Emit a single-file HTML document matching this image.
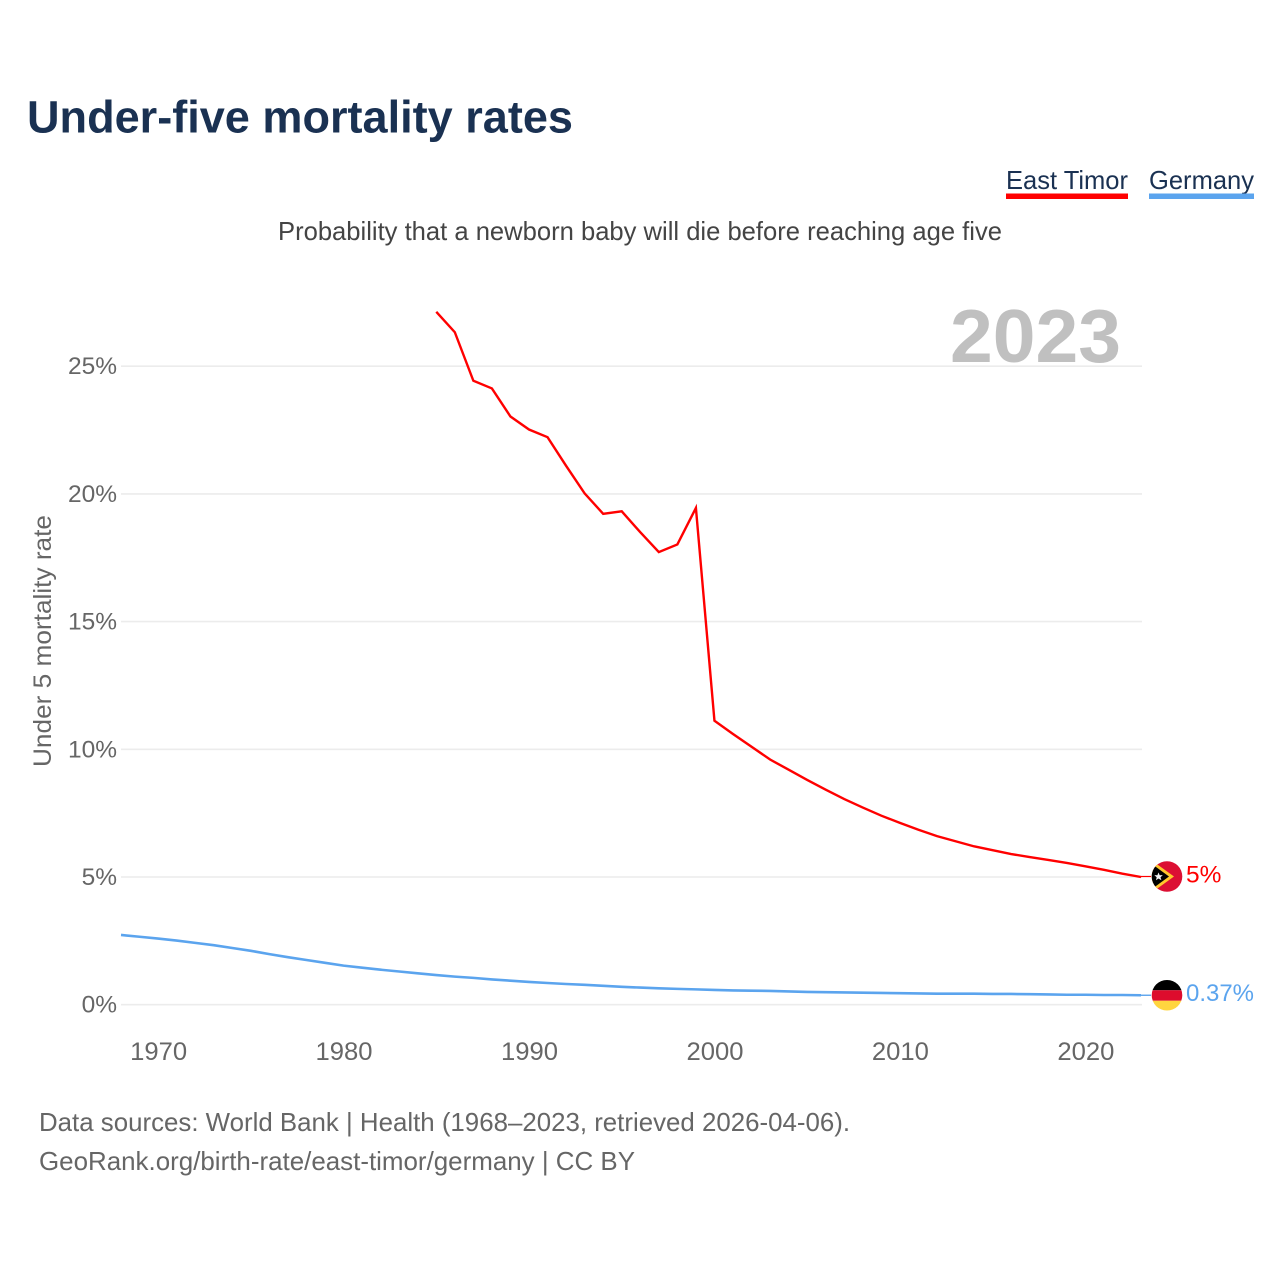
<!DOCTYPE html>
<html lang="en">
<head>
<meta charset="utf-8">
<title>Under-five mortality rates</title>
<style>
html,body{margin:0;padding:0;background:#fff;width:1280px;height:1280px;overflow:hidden}
svg{display:block}
text{font-family:"Liberation Sans",sans-serif}
</style>
</head>
<body>
<svg id="chart" width="1280" height="1280" viewBox="0 0 1280 1280" xmlns="http://www.w3.org/2000/svg">
  <text x="27" y="132.5" font-size="45" font-weight="700" fill="#1a3152" textLength="546" lengthAdjust="spacingAndGlyphs">Under-five mortality rates</text>

  <g>
    <text x="1006" y="189" font-size="26" fill="#1a3152" textLength="122" lengthAdjust="spacingAndGlyphs">East Timor</text>
    <rect x="1006" y="193.5" width="122" height="5.5" fill="#ff0000"/>
  </g>
  <g>
    <text x="1149" y="189" font-size="26" fill="#1a3152" textLength="105" lengthAdjust="spacingAndGlyphs">Germany</text>
    <rect x="1149" y="193.5" width="105" height="5.5" fill="#5ba4ee"/>
  </g>

  <text x="278" y="240" font-size="26" fill="#444444" textLength="724" lengthAdjust="spacingAndGlyphs">Probability that a newborn baby will die before reaching age five</text>

  <g id="grid"></g>
  <g id="yticks"></g>
  <g id="xticks"></g>

  <text x="950" y="362" font-size="75" font-weight="700" fill="#c0c0c0" textLength="171" lengthAdjust="spacingAndGlyphs">2023</text>

  <text x="0" y="0" transform="translate(51,767) rotate(-90)" font-size="25" fill="#666666" textLength="252" lengthAdjust="spacingAndGlyphs">Under 5 mortality rate</text>

  <g id="series"></g>
  <g id="ends"></g>

  <text x="39" y="1131" font-size="26" fill="#666666" textLength="811" lengthAdjust="spacingAndGlyphs">Data sources: World Bank | Health (1968–2023, retrieved 2026-04-06).</text>
  <text x="39" y="1170" font-size="26" fill="#666666" textLength="596" lengthAdjust="spacingAndGlyphs">GeoRank.org/birth-rate/east-timor/germany | CC BY</text>
</svg>

<script>
const yTicks = [0, 5, 10, 15, 20, 25];
const xTicks = [1970, 1980, 1990, 2000, 2010, 2020];
const eastTimorStart = 1985;
const eastTimorValues = [27.13, 26.33, 24.43, 24.13, 23.03, 22.52, 22.22, 21.1, 20.02, 19.22, 19.32, 18.5, 17.72, 18.02, 19.45, 11.12, 10.6, 10.1, 9.6, 9.2, 8.8, 8.42, 8.05, 7.72, 7.4, 7.12, 6.85, 6.6, 6.4, 6.2, 6.05, 5.9, 5.78, 5.67, 5.55, 5.42, 5.28, 5.13, 5.0];
const germanyStart = 1968;
const germanyValues = [2.73, 2.66, 2.59, 2.51, 2.42, 2.33, 2.22, 2.11, 1.98, 1.86, 1.75, 1.64, 1.53, 1.45, 1.37, 1.30, 1.23, 1.16, 1.10, 1.05, 0.99, 0.94, 0.89, 0.85, 0.81, 0.78, 0.74, 0.70, 0.67, 0.64, 0.62, 0.60, 0.58, 0.56, 0.55, 0.54, 0.52, 0.50, 0.49, 0.48, 0.47, 0.46, 0.45, 0.44, 0.43, 0.43, 0.43, 0.42, 0.42, 0.41, 0.40, 0.39, 0.39, 0.38, 0.38, 0.37];
const eastTimorLabel = '5%';
const germanyLabel = '0.37%';

const NS = 'http://www.w3.org/2000/svg';
function xScale(year) { return 121 + (year - 1968) * (1141 - 121) / 55; }
function yScale(v) { return 1004.7 - v * 25.54; }
function make(tag, attrs, parent) {
  const el = document.createElementNS(NS, tag);
  for (const k in attrs) el.setAttribute(k, attrs[k]);
  parent.appendChild(el);
  return el;
}

const grid = document.getElementById('grid');
const yTickGroup = document.getElementById('yticks');
yTicks.forEach(function (t) {
  const line = make('line', { x1: 121, x2: 1142, y1: yScale(t), y2: yScale(t), stroke: '#ececec', 'stroke-width': 1.6 }, grid);
  
  
  const label = make('text', { x: 117, y: yScale(t) + 8, 'text-anchor': 'end', 'font-size': 24.5, fill: '#666666' }, yTickGroup);
  
  
  label.textContent = t + '%';
});

const xTickGroup = document.getElementById('xticks');
xTicks.forEach(function (t) {
  const label = make('text', { x: xScale(t) - 28, y: 1060, 'font-size': 25, fill: '#666666', textLength: 57, lengthAdjust: 'spacingAndGlyphs' }, xTickGroup);
  
  
  label.textContent = String(t);
});

function pathFor(start, values) {
  return values.map(function (v, i) {
    return (i ? 'L' : 'M') + xScale(start + i).toFixed(2) + ' ' + yScale(v).toFixed(2);
  }).join(' ');
}

const seriesGroup = document.getElementById('series');
const germanyLine = make('path', { d: pathFor(germanyStart, germanyValues), fill: 'none', stroke: '#5ba4ee', 'stroke-width': 2.6, 'stroke-linejoin': 'round' }, seriesGroup);


const timorLine = make('path', { d: pathFor(eastTimorStart, eastTimorValues), fill: 'none', stroke: '#ff0000', 'stroke-width': 2.4, 'stroke-linejoin': 'miter' }, seriesGroup);



const ends = document.getElementById('ends');
const flagX = 1167;

/* East Timor end marker */
const tY = yScale(eastTimorValues[eastTimorValues.length - 1]);
const tLead = make('line', { x1: 1141, x2: 1151, y1: tY - 0.5, y2: tY - 0.5, stroke: '#ff0000', 'stroke-width': 1.2 }, ends);


const tFlag = make('g', { transform: 'translate(' + flagX + ',' + (tY - 0.5) + ')' }, ends);


const tClip = make('clipPath', { id: 'timor-clip' }, tFlag);
make('circle', { r: 15.3 }, tClip);
const tBody = make('g', { 'clip-path': 'url(#timor-clip)' }, tFlag);
make('rect', { x: -16, y: -16, width: 32, height: 32, fill: '#dc0f33' }, tBody);
make('path', { d: 'M-16 -16 L-11 -13 L7 0 L-11 13 L-16 16 Z', fill: '#ffc72c' }, tBody);
make('path', { d: 'M-16 -13 L-11 -9.5 L2 0 L-11 9.5 L-16 13 Z', fill: '#000000' }, tBody);
make('path', { d: 'M-8.5 -4 L-7.3 -1.2 L-4.2 -1.4 L-6.5 0.7 L-5.6 3.7 L-8.5 2 L-11 3.7 L-10.3 0.7 L-12.7 -1.4 L-9.6 -1.2 Z', fill: '#f4f4f4' }, tBody);
const tLabel = make('text', { x: 1186, y: tY + 5.5, 'font-size': 24.5, fill: '#ff0000' }, ends);


tLabel.textContent = eastTimorLabel;

/* Germany end marker */
const gY = yScale(germanyValues[germanyValues.length - 1]);
const gLead = make('line', { x1: 1141, x2: 1151, y1: gY, y2: gY, stroke: '#5ba4ee', 'stroke-width': 1.4 }, ends);


const gFlag = make('g', { transform: 'translate(' + flagX + ',' + gY + ')' }, ends);


const clip = make('clipPath', { id: 'germany-clip' }, gFlag);
make('circle', { r: 15.3 }, clip);
const stripes = make('g', { 'clip-path': 'url(#germany-clip)' }, gFlag);
make('rect', { x: -16, y: -16, width: 32, height: 11, fill: '#000000' }, stripes);
make('rect', { x: -16, y: -5, width: 32, height: 10.5, fill: '#dd0c2d' }, stripes);
make('rect', { x: -16, y: 5.5, width: 32, height: 11, fill: '#ffd53f' }, stripes);
const gLabel = make('text', { x: 1186, y: gY + 5.5, 'font-size': 24.5, fill: '#5ba4ee', textLength: 68, lengthAdjust: 'spacingAndGlyphs' }, ends);


gLabel.textContent = germanyLabel;
</script>
</body>
</html>
